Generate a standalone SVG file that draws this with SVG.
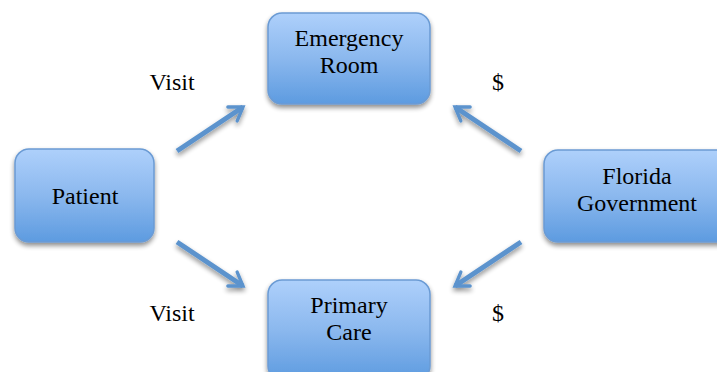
<svg xmlns="http://www.w3.org/2000/svg" width="717" height="372" viewBox="0 0 717 372">
  <defs>
    <linearGradient id="boxFill" x1="0" y1="0" x2="0" y2="1">
      <stop offset="0" stop-color="#aed0fb"/>
      <stop offset="0.5" stop-color="#8bb8ee"/>
      <stop offset="1" stop-color="#5d9be0"/>
    </linearGradient>
    <filter id="shadow" x="-20%" y="-20%" width="140%" height="150%">
      <feGaussianBlur in="SourceAlpha" stdDeviation="2.5"/>
      <feOffset dx="0" dy="3" result="b"/>
      <feComponentTransfer><feFuncA type="linear" slope="0.45"/></feComponentTransfer>
      <feMerge><feMergeNode/><feMergeNode in="SourceGraphic"/></feMerge>
    </filter>
    <marker id="chevron" viewBox="0 0 10 10" refX="7" refY="5" markerWidth="4.2" markerHeight="4.2" orient="auto" markerUnits="strokeWidth">
      <path d="M1,1 L7,5 L1,9" fill="none" stroke="#5b93cd" stroke-width="1.6" stroke-linecap="round" stroke-linejoin="miter"/>
    </marker>
  </defs>
  <style>
    .box { fill: url(#boxFill); stroke: #6b9bd4; stroke-width: 1.5; filter: url(#shadow); }
    .label { font-family: "Liberation Serif", "Times New Roman", serif; font-size: 24px; fill: #000; text-anchor: middle; }
    .conn { stroke: #5b93cd; stroke-width: 5; fill: none; marker-end: url(#chevron); filter: url(#shadow); }
  </style>

  <g id="connectors">
    <line class="conn" x1="177" y1="151" x2="243" y2="107"/>
    <line class="conn" x1="177" y1="242" x2="243" y2="286"/>
    <line class="conn" x1="521" y1="151" x2="455" y2="107"/>
    <line class="conn" x1="521" y1="242" x2="455" y2="286"/>
    <text class="label" x="172" y="90">Visit</text>
    <text class="label" x="172" y="321">Visit</text>
    <text class="label" x="498" y="90">$</text>
    <text class="label" x="498" y="321">$</text>
  </g>

  <g id="emergency-room">
    <rect class="box" x="268" y="13" width="162" height="91" rx="14"/>
    <text class="label" x="349" y="46">Emergency</text>
    <text class="label" x="349" y="73">Room</text>
  </g>

  <g id="patient">
    <rect class="box" x="15" y="149" width="139" height="93" rx="14"/>
    <text class="label" x="85" y="204">Patient</text>
  </g>

  <g id="florida-government">
    <rect class="box" x="544" y="150" width="190" height="92" rx="14"/>
    <text class="label" x="637" y="184">Florida</text>
    <text class="label" x="637" y="211">Government</text>
  </g>

  <g id="primary-care">
    <rect class="box" x="268" y="280" width="162" height="100" rx="14"/>
    <text class="label" x="349" y="313">Primary</text>
    <text class="label" x="349" y="340">Care</text>
  </g>
</svg>
